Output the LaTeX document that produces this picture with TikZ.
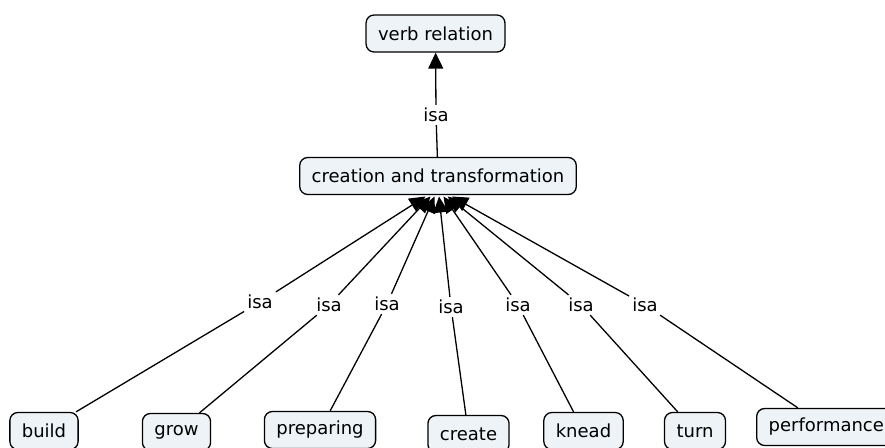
\documentclass[tikz,border=0pt]{standalone}
\usepackage{fontspec}
\setmainfont{DejaVu Sans}
\usetikzlibrary{arrows.meta}
\definecolor{boxfill}{RGB}{237,243,246}
\tikzset{
  concept/.style={draw=black, line width=1.3pt, fill=boxfill, rounded corners=8pt,
    minimum height=37pt, inner xsep=12pt, font=\fontsize{18}{21}\selectfont},
  linklbl/.style={inner sep=3pt, font=\fontsize{18}{21}\selectfont},
  conn/.style={line width=1.3pt},
  arr/.style={line width=1.3pt, -{Triangle[length=16pt,width=15pt]}}
}
\begin{document}
\begin{tikzpicture}[x=1pt,y=-1pt]
\useasboundingbox (0,0) rectangle (885,447);
\clip (0,0) rectangle (885,447);
\node[concept] (verb) at (435.5,33.5) {verb relation};
\node[concept] (ct) at (438,176) {creation and transformation};
\node[linklbl] (l0) at (436,115) {isa};
\draw[conn] (ct) -- (l0);
\draw[arr] (l0) -- (verb);

\node[concept] (build) at (44,431) {build};
\node[concept] (grow) at (176.5,432) {grow};
\node[concept] (prep) at (320,430) {preparing};
\node[concept] (create) at (468.5,434) {create};
\node[concept] (knead) at (583.5,431) {knead};
\node[concept] (turn) at (695,431) {turn};
\node[concept, anchor=west] (perf) at (756,427) {performance};

\node[linklbl] (l1) at (260,302) {isa};
\node[linklbl] (l2) at (329,305) {isa};
\node[linklbl] (l3) at (387,304) {isa};
\node[linklbl] (l4) at (451,307) {isa};
\node[linklbl] (l5) at (518,305) {isa};
\node[linklbl] (l6) at (581,305) {isa};
\node[linklbl] (l7) at (645,305) {isa};

\coordinate (t1) at (425.5,196.5);
\coordinate (t2) at (430.5,196.5);
\coordinate (t3) at (434.5,196.5);
\coordinate (t4) at (439,196.5);
\coordinate (t5) at (443.5,196.5);
\coordinate (t6) at (447.7,196.5);
\coordinate (t7) at (452,196.5);

\foreach \n/\l/\t in {build/l1/t1,grow/l2/t2,prep/l3/t3,create/l4/t4,knead/l5/t5,turn/l6/t6,perf/l7/t7}{
  \draw[conn] (\n) -- (\l);
  \draw[arr] (\l) -- (\t);
}
\end{tikzpicture}
\end{document}
